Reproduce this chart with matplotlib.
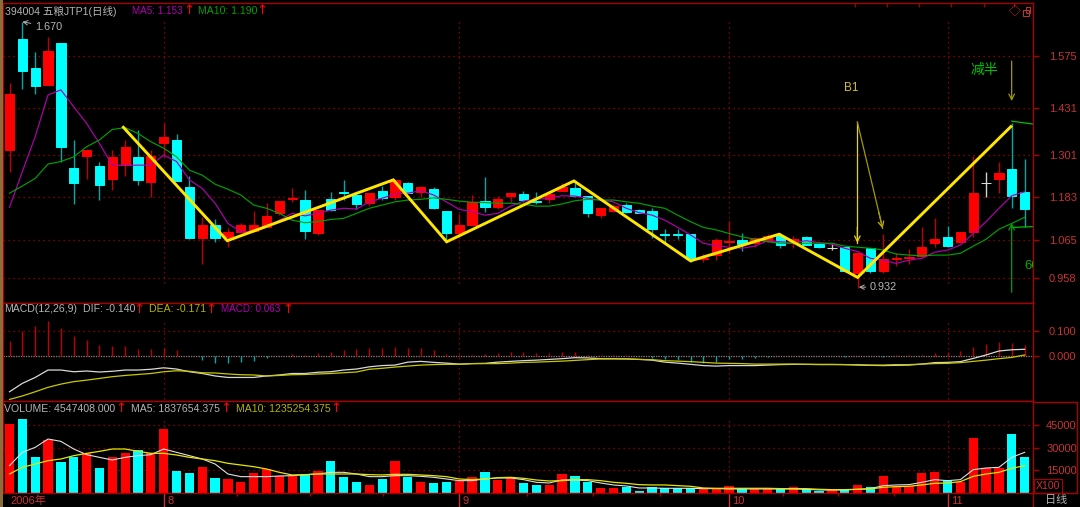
import numpy as np
import matplotlib
matplotlib.use('Agg')
import matplotlib.pyplot as plt
from matplotlib.lines import Line2D
from matplotlib.patches import Rectangle

plt.rcParams['font.family'] = ['Liberation Sans', 'Noto Sans CJK SC', 'DejaVu Sans']

# ========================= ДАННЫЕ =========================
opens = [1.314, 1.621, 1.542, 1.495, 1.612, 1.264, 1.297, 1.269, 1.233, 1.272,
         1.294, 1.225, 1.333, 1.342, 1.211, 1.069, 1.106, 1.072, 1.086, 1.089,
         1.100, 1.139, 1.178, 1.175, 1.083, 1.178, 1.197, 1.189, 1.167, 1.200,
         1.183, 1.222, 1.197, 1.206, 1.144, 1.083, 1.106, 1.172, 1.156, 1.186,
         1.192, 1.172, 1.178, 1.200, 1.208, 1.186, 1.133, 1.144, 1.161, 1.147,
         1.144, 1.081, 1.081, 1.081, 1.011, 1.022, 1.058, 1.064, 1.056, 1.061,
         1.075, 1.056, 1.072, 1.053, 1.043, 1.044, 0.972, 1.042, 0.978, 1.011,
         1.014, 1.019, 1.056, 1.072, 1.058, 1.086, 1.222, 1.233, 1.261, 1.197]
closes = [1.469, 1.533, 1.492, 1.589, 1.323, 1.222, 1.314, 1.217, 1.294, 1.322,
          1.231, 1.297, 1.350, 1.228, 1.069, 1.106, 1.069, 1.086, 1.106, 1.106,
          1.131, 1.172, 1.181, 1.089, 1.147, 1.147, 1.194, 1.164, 1.194, 1.181,
          1.231, 1.194, 1.211, 1.153, 1.083, 1.106, 1.169, 1.156, 1.178, 1.194,
          1.175, 1.169, 1.192, 1.211, 1.186, 1.139, 1.153, 1.158, 1.142, 1.139,
          1.094, 1.078, 1.078, 1.011, 1.014, 1.064, 1.061, 1.053, 1.069, 1.075,
          1.050, 1.067, 1.050, 1.044, 1.043, 0.978, 1.028, 0.978, 1.011, 1.014,
          1.017, 1.044, 1.067, 1.047, 1.086, 1.194, 1.222, 1.250, 1.186, 1.150]
highs = [1.500, 1.670, 1.587, 1.628, 1.612, 1.342, 1.314, 1.281, 1.314, 1.342,
         1.369, 1.314, 1.389, 1.358, 1.242, 1.128, 1.122, 1.097, 1.111, 1.144,
         1.167, 1.172, 1.208, 1.203, 1.147, 1.197, 1.231, 1.197, 1.194, 1.214,
         1.231, 1.225, 1.214, 1.211, 1.144, 1.136, 1.189, 1.239, 1.186, 1.194,
         1.200, 1.197, 1.192, 1.222, 1.222, 1.186, 1.153, 1.164, 1.167, 1.150,
         1.153, 1.094, 1.094, 1.081, 1.025, 1.069, 1.117, 1.083, 1.072, 1.081,
         1.083, 1.075, 1.075, 1.056, 1.053, 1.047, 1.031, 1.042, 1.081, 1.028,
         1.039, 1.100, 1.125, 1.103, 1.086, 1.297, 1.253, 1.281, 1.389, 1.289]
lows = [1.253, 1.483, 1.469, 1.494, 1.281, 1.164, 1.233, 1.175, 1.203, 1.242,
        1.217, 1.183, 1.294, 1.228, 1.067, 0.997, 1.058, 1.044, 1.086, 1.086,
        1.100, 1.133, 1.169, 1.067, 1.078, 1.144, 1.175, 1.150, 1.158, 1.175,
        1.175, 1.194, 1.183, 1.150, 1.064, 1.083, 1.106, 1.142, 1.150, 1.169,
        1.169, 1.164, 1.167, 1.200, 1.183, 1.128, 1.125, 1.142, 1.139, 1.139,
        1.069, 1.056, 1.067, 1.003, 1.003, 1.008, 1.028, 1.033, 1.044, 1.058,
        1.042, 1.042, 1.050, 1.042, 1.036, 0.975, 0.932, 0.972, 0.972, 0.992,
        0.997, 1.017, 1.044, 1.044, 1.058, 1.072, 1.183, 1.194, 1.153, 1.100]
price_ma5 = [1.155, 1.254, 1.351, 1.467, 1.481, 1.434, 1.388, 1.332, 1.272, 1.271,
             1.272, 1.272, 1.300, 1.282, 1.231, 1.207, 1.166, 1.110, 1.087, 1.087,
             1.099, 1.119, 1.138, 1.131, 1.138, 1.147, 1.152, 1.150, 1.170, 1.180,
             1.192, 1.194, 1.201, 1.189, 1.170, 1.149, 1.143, 1.133, 1.138, 1.158,
             1.172, 1.177, 1.180, 1.187, 1.186, 1.180, 1.175, 1.170, 1.152, 1.140,
             1.133, 1.119, 1.099, 1.078, 1.055, 1.048, 1.044, 1.041, 1.047, 1.062,
             1.059, 1.057, 1.062, 1.057, 1.052, 1.041, 1.032, 1.013, 1.008, 0.999,
             1.008, 1.013, 1.030, 1.036, 1.050, 1.082, 1.115, 1.152, 1.187, 1.198]
price_ma10 = [1.194, 1.214, 1.235, 1.275, 1.282, 1.295, 1.323, 1.342, 1.371, 1.376,
              1.360, 1.337, 1.319, 1.295, 1.258, 1.244, 1.219, 1.205, 1.189, 1.161,
              1.152, 1.138, 1.119, 1.112, 1.115, 1.121, 1.124, 1.138, 1.152, 1.161,
              1.170, 1.175, 1.177, 1.181, 1.177, 1.172, 1.169, 1.168, 1.166, 1.166,
              1.163, 1.158, 1.158, 1.164, 1.173, 1.177, 1.175, 1.175, 1.170, 1.166,
              1.158, 1.152, 1.133, 1.115, 1.099, 1.092, 1.082, 1.073, 1.066, 1.059,
              1.055, 1.055, 1.055, 1.055, 1.055, 1.047, 1.044, 1.041, 1.036, 1.025,
              1.022, 1.020, 1.022, 1.022, 1.027, 1.047, 1.066, 1.094, 1.110, 1.127]

macd_bars = [.059, .101, .120, .142, .112, .080, .065, .043, .040, .040,
             .026, .026, .032, .023, -.002, -.018, -.028, -.028, -.024, -.022,
             -.008, -.001, .007, .003, .012, .016, .023, .027, .030, .030,
             .036, .032, .032, .023, .007, .003, .003, .005, .009, .015,
             .015, .009, .009, .016, .015, .003, .001, .001, .001, .000,
             -.008, -.013, -.016, -.026, -.030, -.027, -.015, -.012, -.008, -.004,
             -.001, -.001, -.001, -.001, .000, -.004, -.001, -.001, -.004, .001,
             .001, .004, .012, .016, .020, .035, .049, .055, .053, .042]
dif = [-.146, -.112, -.088, -.058, -.058, -.065, -.062, -.066, -.063, -.058,
       -.058, -.055, -.049, -.054, -.065, -.072, -.082, -.088, -.088, -.088,
       -.082, -.078, -.072, -.072, -.067, -.065, -.058, -.054, -.045, -.040,
       -.038, -.026, -.023, -.027, -.030, -.034, -.032, -.031, -.026, -.023,
       -.020, -.018, -.015, -.012, -.008, -.009, -.012, -.012, -.013, -.015,
       -.018, -.026, -.030, -.035, -.040, -.042, -.040, -.040, -.040, -.038,
       -.036, -.035, -.035, -.036, -.036, -.036, -.038, -.039, -.040, -.039,
       -.038, -.034, -.028, -.027, -.024, -.011, .003, .019, .024, .026]
dea = [-.177, -.163, -.146, -.128, -.115, -.105, -.099, -.092, -.085, -.080,
       -.076, -.072, -.065, -.061, -.063, -.069, -.070, -.074, -.077, -.078,
       -.082, -.080, -.077, -.076, -.074, -.072, -.069, -.066, -.055, -.051,
       -.046, -.042, -.038, -.036, -.035, -.035, -.032, -.032, -.032, -.030,
       -.027, -.026, -.024, -.022, -.019, -.016, -.013, -.013, -.013, -.015,
       -.016, -.020, -.022, -.024, -.027, -.030, -.031, -.032, -.034, -.034,
       -.034, -.034, -.035, -.035, -.035, -.036, -.036, -.038, -.038, -.036,
       -.036, -.034, -.032, -.031, -.028, -.023, -.018, -.012, -.007, .003]

volumes = [45550, 48620, 24090, 35040, 20370, 23650, 26280, 16430, 24090, 26280,
           28690, 26280, 42270, 14890, 13140, 17080, 10070, 9420, 7230, 13580,
           15990, 11170, 11610, 12260, 14890, 21460, 10510, 7670, 5690, 9420,
           21020, 10950, 7670, 6570, 7670, 8320, 10510, 14020, 8980, 10510,
           6570, 5480, 5690, 12920, 11170, 7230, 3500, 3500, 4160, 1750,
           4380, 3290, 3290, 3290, 2850, 2850, 4600, 3290, 3290, 3290,
           3290, 3940, 2630, 1750, 2190, 2190, 5260, 4160, 11170, 3940,
           4600, 13580, 14240, 8540, 7670, 36350, 16640, 16430, 39200, 24090]
vol_ma5 = [18180, 26940, 30220, 35700, 34160, 29130, 25400, 23650, 21900, 23650,
           24750, 25400, 29130, 26940, 24750, 22560, 19270, 12700, 10950, 10950,
           10950, 11390, 11610, 12260, 12700, 13800, 13800, 12700, 10950, 10950,
           11610, 11610, 11170, 10510, 9420, 8320, 8320, 9420, 10070, 10070,
           8980, 7230, 6790, 8760, 8760, 8320, 6790, 5480, 4820, 3500,
           3500, 3290, 3290, 3290, 3070, 3070, 2850, 2850, 2850, 2850,
           2850, 2850, 2630, 2190, 2190, 2190, 2630, 3070, 5040, 5480,
           5690, 7230, 8980, 8320, 8980, 15550, 16640, 17080, 23650, 26940]
vol_ma10 = [12700, 17080, 19270, 21460, 22560, 24750, 26280, 27590, 29130, 29130,
            27590, 26280, 26280, 25190, 23650, 22560, 21460, 19710, 18620, 17520,
            15990, 13800, 12050, 12260, 12700, 12700, 12700, 12700, 12260, 12050,
            12480, 12480, 12050, 11610, 10950, 9420, 8980, 9420, 10290, 10510,
            9860, 8760, 8100, 8320, 8980, 8980, 8320, 7230, 6570, 5690,
            5480, 5480, 5040, 4600, 3500, 3290, 3290, 3290, 3290, 3290,
            3070, 3070, 3070, 2630, 2410, 2410, 2630, 2850, 3940, 4380,
            4600, 5480, 6570, 6790, 7670, 11170, 12700, 13800, 16430, 18180]

price_ticks = [0.958, 1.065, 1.183, 1.301, 1.431, 1.575]
macd_ticks = [0.0, 0.1]
vol_ticks = [15000, 30000, 45000]

month_pos = [12, 35, 56, 73]
month_names = ['8', '9', '10', '11']
minor_pos = [17.7, 23.4, 29.1, 40.3, 45.4, 50.6, 60.2, 64.5, 68.8]
top_tick_pos = [65.8, 68.3, 70.8, 73.3, 75.8, 78.2]

# ручная разметка на графике: (номер свечи, цена)
zigzag_x = [8.86, 16.95, 29.87, 34.02, 43.93, 53.0, 59.9, 66.0, 77.93]
zigzag_y = [1.377, 1.062, 1.231, 1.059, 1.228, 1.006, 1.080, 0.960, 1.379]

RED = '#ff0000'
CYAN = '#00ffff'
FRAME = '#a80000'
TICK_TXT = '#c83232'
GREY = '#b4b4b4'
OLIVE = '#b4b400'

W, H = 1080, 507
bars = np.arange(len(closes))
up = np.array(closes) > np.array(opens)
flat = np.array(closes) == np.array(opens)
XLIM = (-0.506, 79.65)


def panel(y_top, y_bottom):
    ax = fig.add_axes([3 / W, 1 - y_bottom / H, 1030 / W, (y_bottom - y_top) / H])
    ax.set_facecolor('black')
    ax.set_xlim(*XLIM)
    for s in ax.spines.values():
        s.set_color(FRAME)
        s.set_linewidth(1.0)
    ax.yaxis.tick_right()
    ax.tick_params(axis='y', colors=FRAME, labelcolor=TICK_TXT, length=4, width=1, pad=7.5, labelsize=8)
    ax.set_xticks([])
    ax.set_axisbelow(True)
    ax.grid(axis='y', color=FRAME, linestyle=(0, (1, 3)), linewidth=0.9)
    return ax


def label(x, y, s, color=GREY, size=7.6):
    fig.text(x / W, 1 - y / H, s, color=color, fontsize=size, va='center', ha='left')


def up_mark(x, y):
    # красная стрелка после значения в заголовке
    fig.text(x / W, 1 - y / H, '↑', color=RED, fontsize=9.5, va='center', ha='center',
             family=['DejaVu Sans'])


def arrow(ax, start, end, color, lw=0.9):
    ax.annotate('', xy=end, xytext=start,
                arrowprops=dict(arrowstyle='->', color=color, lw=lw, shrinkA=0, shrinkB=0))


fig = plt.figure(figsize=(W / 100, H / 100), dpi=100, facecolor='black')
fig.add_artist(Rectangle((0, 0), 3 / W, 1, transform=fig.transFigure, color='#8a6d3b', lw=0))

# ====================== ЦЕНА ======================
ax = panel(3, 302.7)
ax.set_ylim(0.8898, 1.7223)
ax.set_yticks(price_ticks, [f'{t:.3f}' for t in price_ticks])
ax.set_xticks(top_tick_pos, [])
ax.tick_params(axis='x', top=True, bottom=False, direction='in', color=FRAME, length=3)
for m in month_pos:
    ax.axvline(m, ymin=0.066, ymax=0.94, color=FRAME, linestyle=(0, (1, 3)), linewidth=0.9)

wick_colors = ['#d0d0d0' if f else ('#c00000' if u else '#00a8a8') for u, f in zip(up, flat)]
body_colors = ['#e0e0e0' if f else (RED if u else CYAN) for u, f in zip(up, flat)]
ax.vlines(bars, lows, highs, colors=wick_colors, linewidth=1.0, zorder=2)
body_low = np.minimum(opens, closes)
body_h = np.abs(np.array(closes) - np.array(opens))
ax.bar(bars, body_h, bottom=body_low, width=0.72, color=body_colors, edgecolor=body_colors,
       linewidth=0.7, zorder=3)
ax.plot(bars, price_ma5, color='#b000b0', lw=0.85, zorder=4)
ax.plot(bars, price_ma10, color='#00a000', lw=0.85, zorder=4)
ax.plot(zigzag_x, zigzag_y, color='#ffe600', lw=2.1, zorder=5, solid_joinstyle='miter')

ax.text(65.5, 1.486, 'B1', color='#d8c020', fontsize=8.5, ha='center', va='center')
ax.plot([65.98, 65.98], [1.392, 1.056], color='#e6d800', lw=0.9, zorder=6)
arrow(ax, (65.98, 1.10), (65.98, 1.056), '#e6d800')
ax.plot([65.98, 67.95], [1.392, 1.096], color='#a09a00', lw=0.9, zorder=6)
arrow(ax, (67.65, 1.141), (67.95, 1.096), '#c8b400')
ax.text(75.9, 1.536, '减半', color='#00c000', fontsize=10, ha='center', va='center')
arrow(ax, (77.99, 1.561), (77.99, 1.450), '#a09a00')
arrow(ax, (77.99, 0.919), (77.99, 1.111), '#00a000')
ax.plot([78.0, 79.65], [1.394, 1.386], color='#00c000', lw=0.9)
ax.plot([78.07, 79.65], [1.099, 1.101], color='#00c000', lw=0.9)
ax.text(79.0, 0.992, '60', color='#00b000', fontsize=9.5, va='center', clip_on=True)

ax.annotate('1.670', xy=(1.0, 1.670), xytext=(1.98, 1.657), color=GREY, fontsize=7.8, va='center',
            arrowprops=dict(arrowstyle='->', color=GREY, lw=0.7, shrinkA=1, shrinkB=0))
ax.annotate('0.932', xy=(66.1, 0.933), xytext=(66.96, 0.933), color=GREY, fontsize=7.8, va='center',
            arrowprops=dict(arrowstyle='->', color=GREY, lw=0.7, shrinkA=1, shrinkB=0))

# ====================== MACD ======================
ax2 = panel(302.7, 401)
ax2.set_ylim(-0.1834, 0.2146)
ax2.set_yticks(macd_ticks, [f'{t:.3f}' for t in macd_ticks])
for m in month_pos:
    ax2.axvline(m, ymin=0.02, ymax=0.82, color=FRAME, linestyle=(0, (1, 3)), linewidth=0.9)
ax2.axhline(0, color='#808080', linestyle=(0, (1, 1)), linewidth=0.9, zorder=1)
macd_colors = ['#c00000' if v >= 0 else '#00a8a8' for v in macd_bars]
ax2.vlines(bars, 0, macd_bars, colors=macd_colors, linewidth=1.0, zorder=2)
ax2.plot(bars, dif, color='#d8d8d8', lw=0.9, zorder=3)
ax2.plot(bars, dea, color='#c8c800', lw=0.9, zorder=4)

# ====================== ОБЪЕМ ======================
ax3 = panel(401, 493.3)
ax3.set_ylim(0, 60700)
ax3.set_yticks(vol_ticks, [str(t) for t in vol_ticks])
ax3.tick_params(axis='y', pad=5.5)
for m in month_pos:
    ax3.axvline(m, ymin=0.18, ymax=0.8, color=FRAME, linestyle=(0, (1, 3)), linewidth=0.9)
vol_colors = [RED if (u or f) else CYAN for u, f in zip(up, flat)]
ax3.bar(bars, volumes, width=0.72, color=vol_colors, zorder=2)
ax3.plot(bars, vol_ma5, color='#e0e0e0', lw=0.8, zorder=3)
ax3.plot(bars, vol_ma10, color='#e6e600', lw=0.9, zorder=4)

ax3.set_xticks(month_pos, [])
ax3.set_xticks(minor_pos, minor=True)
ax3.tick_params(axis='x', which='major', color=TICK_TXT, length=10, width=1)
ax3.tick_params(axis='x', which='minor', color=FRAME, length=2, width=1)
for m, name in zip(month_pos, month_names):
    ax3.annotate(name, xy=(m, 0), xycoords=('data', 'axes fraction'), xytext=(2.5, -5.5),
                 textcoords='offset points', color=TICK_TXT, fontsize=8, va='center')
ax3.annotate('2006年', xy=(0, 0), xycoords=('data', 'axes fraction'), xytext=(0.5, -5.5),
             textcoords='offset points', color=TICK_TXT, fontsize=8, va='center')

# рамка справа и подпись X100
fig.add_artist(Line2D([1033 / W, 1033 / W], [0, 1 - 493 / H], color=FRAME, lw=1))
fig.add_artist(Line2D([1033 / W, 1077 / W, 1077 / W, 1033 / W],
                      [1 - 402 / H, 1 - 402 / H, 1 - 493 / H, 1 - 493 / H], color=FRAME, lw=1))
fig.add_artist(Rectangle((1034 / W, 1 - 493 / H), 28 / W, 14 / H, transform=fig.transFigure,
                         facecolor='black', edgecolor=FRAME, lw=0.8))
label(1036, 486, 'X100', TICK_TXT, 7.6)
label(1045, 500, '日线', GREY, 8)

# ====================== ПОДПИСИ ======================
label(5, 11, '394004 五粮JTP1(日线)')
label(132, 11, 'MA5: 1.153', '#b000b0', 7.1)
up_mark(189, 11)
label(198, 11, 'MA10: 1.190', '#00a000')
up_mark(262, 11)

label(4, 309.5, 'MACD(12,26,9)')
label(83, 309.5, 'DIF: -0.140')
up_mark(139, 309.5)
label(149, 309.5, 'DEA: -0.171', OLIVE)
up_mark(211, 309.5)
label(221, 309.5, 'MACD: 0.063', '#b000b0', 7.1)
up_mark(288, 309.5)

label(4, 408.5, 'VOLUME: 4547408.000')
up_mark(121, 408.5)
label(131, 408.5, 'MA5: 1837654.375')
up_mark(226, 408.5)
label(236, 408.5, 'MA10: 1235254.375', OLIVE)
up_mark(336, 408.5)

# значки в правом верхнем углу
label(1009, 12, '◇', '#c83232', 8.5)
fig.add_artist(Rectangle((1023 / W, 1 - 16 / H), 6 / W, 6 / H, transform=fig.transFigure,
                         facecolor='none', edgecolor='#c83232', lw=0.7))
fig.add_artist(Rectangle((1026 / W, 1 - 13 / H), 4 / W, 6 / H, transform=fig.transFigure,
                         facecolor='none', edgecolor='#c83232', lw=0.7))

plt.savefig('out.png', dpi=100, facecolor='black')
